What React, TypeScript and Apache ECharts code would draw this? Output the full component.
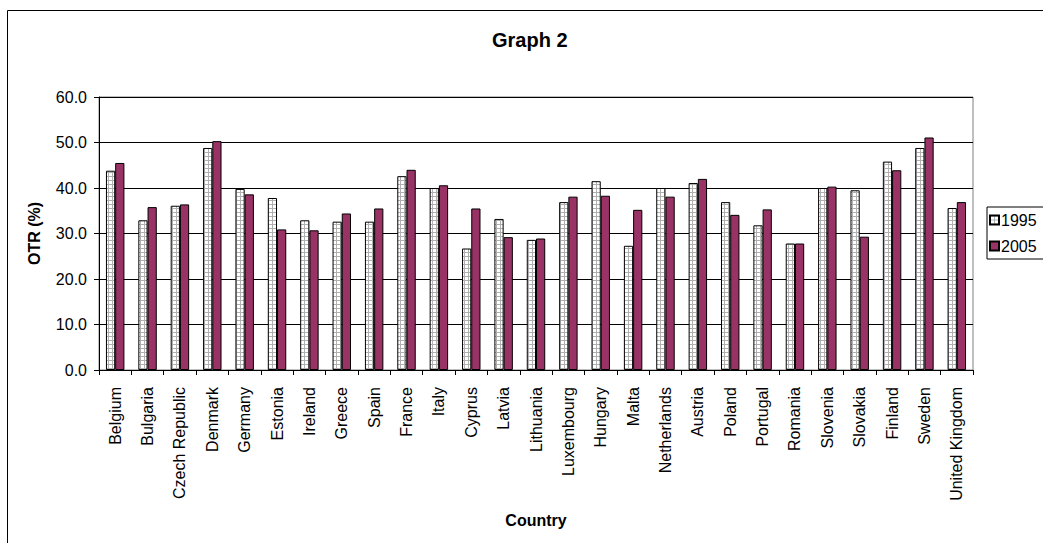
import React, { useEffect, useRef } from "react";
import * as echarts from "echarts";

const countries = [
  "Belgium", "Bulgaria", "Czech Republic", "Denmark", "Germany", "Estonia", "Ireland",
  "Greece", "Spain", "France", "Italy", "Cyprus", "Latvia", "Lithuania", "Luxembourg",
  "Hungary", "Malta", "Netherlands", "Austria", "Poland", "Portugal", "Romania",
  "Slovenia", "Slovakia", "Finland", "Sweden", "United Kingdom",
];
const values1995 = [
  43.8, 32.9, 36.1, 48.8, 39.8, 37.8, 32.9, 32.6, 32.6, 42.6, 40.0, 26.7, 33.2, 28.6,
  36.9, 41.5, 27.3, 40.0, 41.1, 36.9, 31.8, 27.8, 40.0, 39.5, 45.8, 48.8, 35.6,
];
const values2005 = [
  45.5, 35.8, 36.4, 50.3, 38.6, 30.9, 30.7, 34.4, 35.5, 44.0, 40.6, 35.5, 29.2, 28.9,
  38.1, 38.3, 35.2, 38.1, 42.0, 34.1, 35.3, 27.8, 40.3, 29.3, 43.9, 51.1, 36.9,
];
const seriesNames = ["1995", "2005"];

const FONT = "'Liberation Sans', Arial, sans-serif";

const tileSvg =
  '<svg xmlns="http://www.w3.org/2000/svg" width="4" height="4">' +
  '<rect width="4" height="4" fill="#ffffff"/>' +
  '<rect width="4" height="1" fill="#b0b0b0"/>' +
  '<rect width="1" height="4" fill="#b0b0b0"/></svg>';
const tileUrl = "data:image/svg+xml;utf8," + encodeURIComponent(tileSvg);

export default function App() {
  const ref = useRef<HTMLDivElement>(null);
  useEffect(() => {
    if (!ref.current) return;
    const chart = echarts.init(ref.current, null, { renderer: "svg" });
    chart.setOption({
      animation: false,
      backgroundColor: "#ffffff",
      textStyle: { fontFamily: FONT, color: "#000" },
      title: {
        text: "Graph 2",
        left: 492,
        top: 30,
        padding: 0,
        textStyle: { fontFamily: FONT, fontSize: 20, fontWeight: "bold", color: "#000" },
      },
      graphic: [
        {
          type: "rect",
          shape: { x: 7.5, y: 10.5, width: 1100, height: 600 },
          style: { fill: "none", stroke: "#000", lineWidth: 1 },
          silent: true,
          z: -1,
        },
      ],
      legend: {
        orient: "vertical",
        left: 987,
        top: 207,
        data: seriesNames,
        backgroundColor: "#fff",
        borderColor: "#000",
        borderWidth: 1,
        borderRadius: 0,
        padding: [5, 60, 5, 2],
        itemGap: 10,
        itemWidth: 9,
        itemHeight: 9,
        icon: "rect",
        textStyle: { fontFamily: FONT, fontSize: 16, color: "#000", padding: [0, 0, 0, -3], lineHeight: 16 },
      },
      grid: {
        left: 99,
        right: 70,
        top: 97,
        bottom: 173,
        show: true,
        borderColor: "#808080",
        borderWidth: 1,
        backgroundColor: "#fff",
      },
      xAxis: {
        type: "category",
        data: countries,
        name: "Country",
        nameLocation: "middle",
        nameGap: 142,
        nameTextStyle: { fontFamily: FONT, fontSize: 16, fontWeight: "bold", color: "#000" },
        axisLine: { lineStyle: { color: "#000", width: 1 } },
        axisTick: { show: true, inside: false, length: 5, interval: 0, lineStyle: { color: "#000" } },
        axisLabel: {
          interval: 0,
          rotate: 90,
          margin: 17,
          fontFamily: FONT,
          fontSize: 16,
          color: "#000",
        },
      },
      yAxis: {
        type: "value",
        min: 0,
        max: 60,
        interval: 10,
        name: "OTR (%)",
        nameLocation: "middle",
        nameRotate: 90,
        nameGap: 57,
        nameTextStyle: { fontFamily: FONT, fontSize: 16, fontWeight: "bold", color: "#000" },
        axisLine: { show: true, lineStyle: { color: "#000", width: 1 } },
        axisTick: { show: true, inside: false, length: 5, lineStyle: { color: "#000" } },
        axisLabel: {
          margin: 12,
          fontFamily: FONT,
          fontSize: 16,
          color: "#000",
          formatter: (v: number) => v.toFixed(1),
        },
        splitLine: { show: true, lineStyle: { color: "#000", width: 1 } },
      },
      series: [
        {
          name: seriesNames[0],
          type: "bar",
          data: values1995,
          barGap: "0%",
          barCategoryGap: "43%",
          itemStyle: {
            color: { image: tileUrl, repeat: "repeat", imageWidth: 4, imageHeight: 4 },
            borderColor: "#000",
            borderWidth: 1,
          },
        },
        {
          name: seriesNames[1],
          type: "bar",
          data: values2005,
          barGap: "0%",
          barCategoryGap: "43%",
          itemStyle: { color: "#993366", borderColor: "#000", borderWidth: 1 },
        },
      ],
    });
    return () => chart.dispose();
  }, []);
  return (
    <div
      ref={ref}
      style={{ position: "fixed", left: 0, top: 0, width: 1043, height: 543 }}
    />
  );
}
